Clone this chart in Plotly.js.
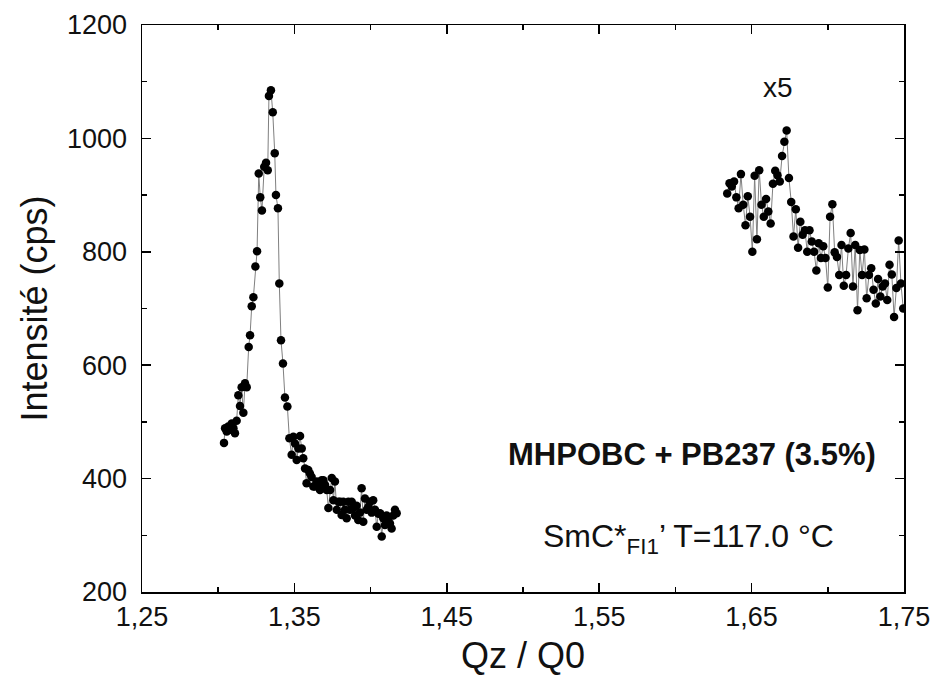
<!DOCTYPE html>
<html>
<head>
<meta charset="utf-8">
<script src="https://cdn.plot.ly/plotly-3.0.1.min.js"></script>
<style>html,body{margin:0;padding:0;background:#fff;}#chart{width:935px;height:688px;}</style>
</head>
<body>
<div id="chart"></div>
<script>
// Peak 1 (first scan), Qz/Q0 and intensity (cps)
const qLeft = [1.3038,1.3045,1.3056,1.3066,1.3078,1.3089,1.3100,1.3110,1.3121,1.3132,1.3143,1.3154,1.3165,1.3176,1.3187,1.3200,1.3209,1.3220,1.3231,1.3244,1.3255,1.3266,1.3276,1.3287,1.3302,1.3314,1.3325,1.3333,1.3346,1.3358,1.3371,1.3379,1.3392,1.3401,1.3412,1.3425,1.3438,1.3454,1.3467,1.3482,1.3493,1.3504,1.3515,1.3526,1.3537,1.3548,1.3558,1.3570,1.3580,1.3591,1.3602,1.3613,1.3624,1.3635,1.3646,1.3657,1.3668,1.3679,1.3690,1.3701,1.3712,1.3723,1.3734,1.3745,1.3756,1.3766,1.3778,1.3789,1.3800,1.3810,1.3821,1.3832,1.3843,1.3854,1.3865,1.3876,1.3887,1.3898,1.3908,1.3919,1.3930,1.3941,1.3952,1.3963,1.3974,1.3985,1.3996,1.4007,1.4017,1.4029,1.4040,1.4051,1.4062,1.4073,1.4083,1.4094,1.4105,1.4116,1.4127,1.4138,1.4149,1.4160,1.4171];
const iLeft = [463,489,483,492,486,497,489,480,502,547,528,561,516,568,561,632,653,704,720,774,801,938,896,873,950,957,944,1075,1085,1046,974,900,877,744,644,603,543,527,471,442,474,462,433,453,475,453,436,418,392,415,409,403,386,386,395,392,380,397,397,389,380,348,380,401,362,395,345,359,359,336,359,345,330,359,345,359,348,335,352,327,340,383,324,365,345,350,359,340,362,345,315,338,339,298,330,318,335,330,321,312,335,345,339];

// Peak 2 (second scan, multiplied by 5)
const qRight = [1.6340,1.6355,1.6370,1.6385,1.6400,1.6415,1.6430,1.6445,1.6460,1.6475,1.6490,1.6505,1.6520,1.6535,1.6550,1.6565,1.6580,1.6595,1.6610,1.6625,1.6640,1.6655,1.6670,1.6685,1.6700,1.6715,1.6730,1.6745,1.6760,1.6775,1.6790,1.6805,1.6820,1.6835,1.6850,1.6865,1.6880,1.6895,1.6910,1.6925,1.6940,1.6955,1.6970,1.6985,1.7000,1.7015,1.7030,1.7045,1.7060,1.7075,1.7090,1.7105,1.7120,1.7135,1.7150,1.7165,1.7180,1.7195,1.7210,1.7225,1.7240,1.7255,1.7270,1.7285,1.7300,1.7315,1.7330,1.7345,1.7360,1.7375,1.7390,1.7405,1.7420,1.7435,1.7450,1.7465,1.7480,1.7495];
const iRight = [903,921,915,924,896,877,937,883,847,898,862,800,934,822,944,883,862,893,871,850,920,943,935,924,969,994,1014,930,888,827,875,807,853,830,838,800,838,818,800,767,815,789,810,789,737,862,884,799,791,759,812,740,759,806,833,739,812,697,803,759,804,718,759,771,733,709,752,721,739,744,715,777,760,685,736,820,744,700];

const xTickVals = [1.25,1.35,1.45,1.55,1.65,1.75];
const xTickText = ["1,25","1,35","1,45","1,55","1,65","1,75"];
const yTickVals = [200,400,600,800,1000,1200];

const FONT = "Arial, 'Liberation Sans', sans-serif";

const common = {
  mode: "lines+markers",
  line: {color: "#808080", width: 1},
  marker: {color: "#000", size: 8.5},
  showlegend: false,
  hoverinfo: "skip"
};

const traces = [
  Object.assign({x: qLeft, y: iLeft, type: "scatter"}, common),
  Object.assign({x: qRight, y: iRight, type: "scatter"}, common)
];

const axisBase = {
  showgrid: false, zeroline: false,
  showline: true, linecolor: "#000", linewidth: 1.5,
  mirror: "allticks",
  ticks: "inside", ticklen: 9, tickwidth: 1.5, tickcolor: "#000",
  tickfont: {family: FONT, size: 27, color: "#111"}
};

const layout = {
  width: 935, height: 688,
  margin: {l: 142, r: 31, t: 25, b: 96},
  paper_bgcolor: "#fff", plot_bgcolor: "#fff",
  xaxis: Object.assign({}, axisBase, {
    range: [1.25, 1.75],
    tickmode: "array", tickvals: xTickVals, ticktext: xTickText,
    minor: {dtick: 0.05, tick0: 1.25, ticks: "inside", ticklen: 5, tickwidth: 1.5, tickcolor: "#000"},
    title: {text: "Qz / Q0", font: {family: FONT, size: 36, color: "#111"}, standoff: 12}
  }),
  yaxis: Object.assign({}, axisBase, {
    range: [200, 1200],
    tickmode: "array", tickvals: yTickVals,
    tickformat: "d",
    ticklabelstandoff: 8,
    minor: {dtick: 100, tick0: 200, ticks: "inside", ticklen: 5, tickwidth: 1.5, tickcolor: "#000"},
    title: {text: "Intensité (cps)", font: {family: FONT, size: 36, color: "#111"}, standoff: 8}
  }),
  annotations: [
    {x: 1.667, y: 1089, xref: "x", yref: "y", text: "x5", showarrow: false,
     font: {family: FONT, size: 28, color: "#111"}},
    {x: 1.733, y: 442, xref: "x", yref: "y", xanchor: "right", text: "<b>MHPOBC + PB237 (3.5%)</b>", showarrow: false,
     font: {family: FONT, size: 31, color: "#111"}},
    {x: 1.5118, y: 295, xref: "x", yref: "y", xanchor: "left", text: "SmC*<sub>FI1</sub>’ T=117.0 °C", showarrow: false,
     font: {family: FONT, size: 32, color: "#111"}}
  ]
};

Plotly.newPlot("chart", traces, layout, {staticPlot: true, displayModeBar: false});
</script>
</body>
</html>
